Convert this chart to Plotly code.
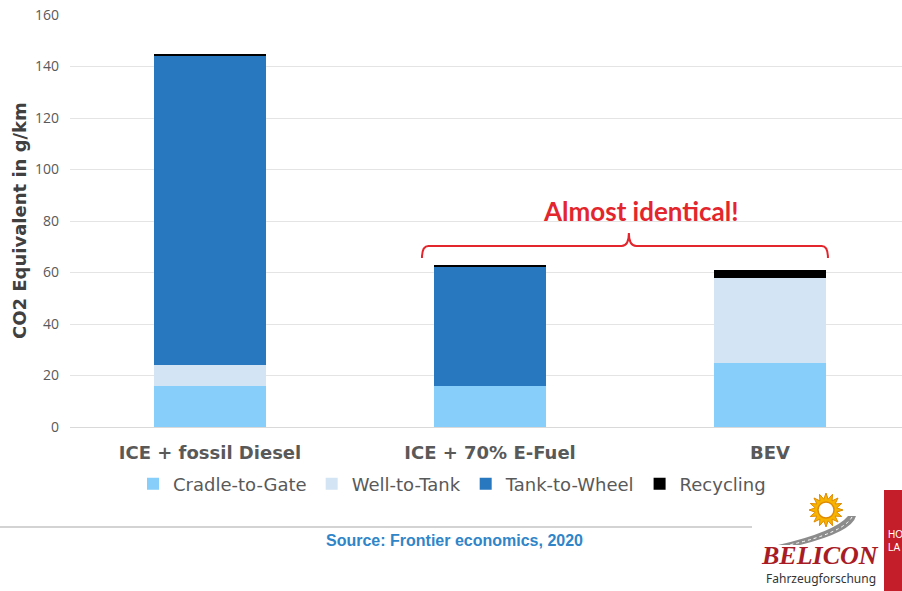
import numpy as np
import plotly.graph_objects as go

# Life-cycle CO2 equivalent per km, split by phase
categories = ["ICE + fossil Diesel", "ICE + 70% E-Fuel", "BEV"]
cradle_to_gate = [16, 16, 25]
well_to_tank = [8, 0, 33]
tank_to_wheel = [120.2, 46, 0]
recycling = [0.8, 0.8, 3]

series = [
    ("Cradle-to-Gate", cradle_to_gate, "#87cefa"),
    ("Well-to-Tank", well_to_tank, "#d3e5f5"),
    ("Tank-to-Wheel", tank_to_wheel, "#2878c0"),
    ("Recycling", recycling, "#000000"),
]

y_ticks = [0, 20, 40, 60, 80, 100, 120, 140, 160]
x_pos = list(range(len(categories)))

fig = go.Figure()
for name, vals, color in series:
    fig.add_trace(go.Bar(
        x=x_pos, y=vals, name=name, width=0.4,
        marker=dict(color=color, line=dict(width=0)),
        hoverinfo="skip",
    ))

# plot area geometry in pixels (used for placing decorations outside the axes)
L, R, T, B = 70, 902, 15, 427
W, H = 902, 591


def px(x):
    return (x - L) / (R - L)


def py(y):
    return (B - y) / (B - T)


shapes = []

# red brace over the two low-emission bars
brace = ("M 0.757,65.6 Q 0.757,70.3 0.78,70.3 L 1.47,70.3 "
         "Q 1.496,70.3 1.496,75.3 Q 1.496,70.3 1.522,70.3 "
         "L 2.185,70.3 Q 2.207,70.3 2.207,65.6")
shapes.append(dict(type="path", path=brace, xref="x", yref="y",
                   line=dict(color="#e3262d", width=2)))

# separator line above the source note
shapes.append(dict(type="line", xref="paper", yref="paper",
                   x0=px(0), x1=px(752), y0=py(527), y1=py(527),
                   line=dict(color="#c4c4c4", width=1.5)))

# logo: red side panel
shapes.append(dict(type="rect", xref="paper", yref="paper",
                   x0=px(884), x1=px(905), y0=py(490), y1=py(594),
                   fillcolor="#c41e2a", line=dict(width=0)))

# logo: road
road = (f"M {px(848)},{py(516)} Q {px(835)},{py(532)} {px(778)},{py(545)} "
        f"L {px(800)},{py(545)} Q {px(852)},{py(532)} {px(856)},{py(516)} Z")
shapes.append(dict(type="path", path=road, xref="paper", yref="paper",
                   fillcolor="#8c8c8c", line=dict(width=0)))
road_mid = f"M {px(852)},{py(517)} Q {px(843)},{py(533)} {px(789)},{py(545)}"
shapes.append(dict(type="path", path=road_mid, xref="paper", yref="paper",
                   line=dict(color="white", width=1, dash="dot")))

# logo: sun with rays
cx, cy, r_out, r_in = 826, 510, 17, 11
n = 16
pts = []
for k in range(2 * n):
    a = np.pi * k / n
    r = r_out if k % 2 == 0 else r_in
    pts.append((cx + r * np.cos(a), cy + r * np.sin(a)))
sun = "M " + " L ".join(f"{px(a)},{py(b)}" for a, b in pts) + " Z"
shapes.append(dict(type="path", path=sun, xref="paper", yref="paper",
                   fillcolor="#f6b400", line=dict(color="#e08a00", width=1)))
shapes.append(dict(type="circle", xref="paper", yref="paper",
                   x0=px(cx - 8), x1=px(cx + 8), y0=py(cy - 8), y1=py(cy + 8),
                   fillcolor="white", line=dict(color="#e08a00", width=1.5)))


def note(text, x, y, family, size, color, **kw):
    d = dict(text=text, xref="paper", yref="paper", x=px(x), y=py(y),
             xanchor="center", yanchor="middle", showarrow=False,
             font=dict(family=family, size=size, color=color))
    d.update(kw)
    return d


annotations = [
    dict(text="<b>Almost identical!</b>", x=1.539, y=83.9, xref="x", yref="y",
         xanchor="center", yanchor="middle", showarrow=False,
         font=dict(family="Lato", size=26, color="#e3262d")),
    note("<b>CO2 Equivalent in g/km</b>", 19, 221, "DejaVu Sans", 18, "#404040",
         textangle=-90),
    note("<b>Source: Frontier economics, 2020</b>", 454, 540, "Liberation Sans", 16,
         "#3085c8"),
    note("<b><i>BELICON</i></b>", 820, 555, "Liberation Serif", 26, "#a81c26"),
    note("Fahrzeugforschung", 821, 578, "Noto Sans", 12, "#333333"),
    note("HO<br>LA", 886, 541, "Liberation Sans", 10, "#ffffff",
         xanchor="left", align="left"),
]

fig.update_layout(
    width=W, height=H,
    margin=dict(l=L, r=W - R, t=T, b=H - B),
    barmode="stack",
    plot_bgcolor="white", paper_bgcolor="white",
    showlegend=True,
    legend=dict(orientation="h", x=px(133), xanchor="left", y=py(484), yanchor="middle",
                font=dict(family="DejaVu Sans", size=18, color="#595959"),
                traceorder="normal", bgcolor="rgba(0,0,0,0)"),
    shapes=shapes,
    annotations=annotations,
    xaxis=dict(range=[-0.5, -0.5 + (R - L) / 280], tickvals=x_pos, ticktext=categories,
               showgrid=False, zeroline=False, showline=False, ticks="",
               tickfont=dict(family="DejaVu Sans", size=18, color="#595959",
                             weight="bold"),
               ticklabelstandoff=13),
    yaxis=dict(range=[0, 160], tickvals=y_ticks, showgrid=True, gridcolor="#e4e4e4",
               gridwidth=1, zeroline=True, zerolinecolor="#d9d9d9", zerolinewidth=1,
               showline=False, ticks="",
               tickfont=dict(family="Open Sans", size=14, color="#595959"),
               ticklabelstandoff=10),
    font=dict(family="DejaVu Sans"),
)

fig.write_html("out.html")
